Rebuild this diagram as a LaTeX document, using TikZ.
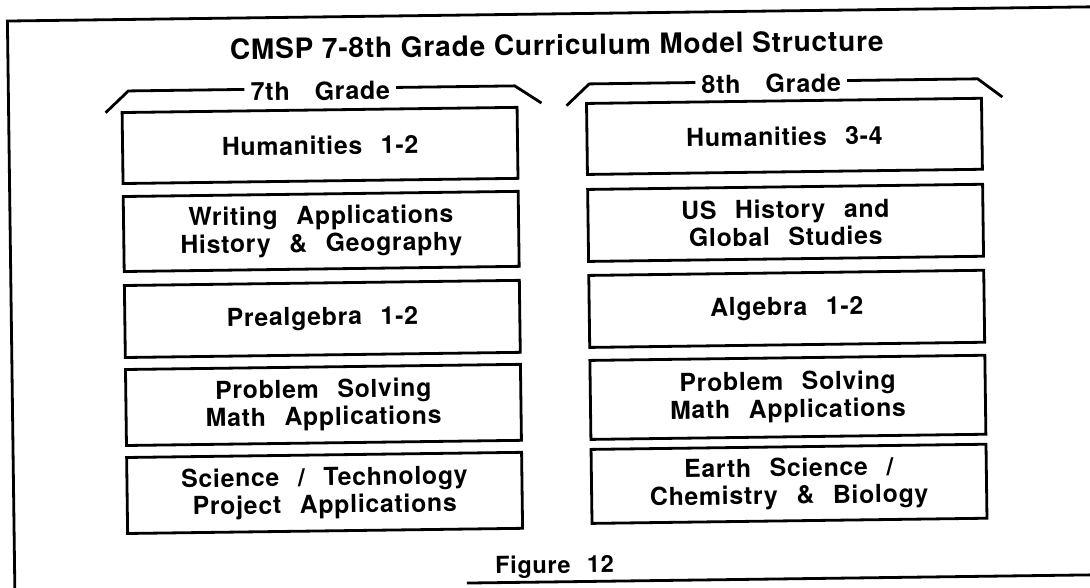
\documentclass[tikz,border=0pt]{standalone}
\usepackage{fontspec}
\setmainfont{TeX Gyre Heros}[LetterSpace=3]
\usepackage{tikz}
\newcommand{\titlefont}{\bfseries\fontsize{28}{32}\selectfont}
\newcommand{\subjfont}{\bfseries\fontsize{24.8}{27.5}\selectfont\spaceskip=0.75em\relax}
\newcommand{\gradefont}{\bfseries\fontsize{25}{28}\selectfont\spaceskip=1em\relax}
\newcommand{\figfont}{\bfseries\fontsize{23.5}{27}\selectfont\spaceskip=0.7em\relax}

\begin{document}
\begin{tikzpicture}[x=1pt,y=-1pt,
        rule/.style={line width=2.8pt,line join=miter},
        subj/.style={draw,line width=2.8pt,minimum width=395pt,inner sep=0pt,align=center,font=\subjfont},
        grade/.style={inner xsep=6pt,inner ysep=0pt,font=\gradefont}]
        \useasboundingbox (0,0) rectangle (1090,587);
        \clip (0,0) rectangle (1090,587);
        \begin{scope}[rotate around={0.75:(545,293)},transform shape]
        \draw[rule] (11,620) -- (11,14) -- (1120,14);
        \draw[rule] (463,582) -- (1120,582);
        \node[font=\titlefont] (title) at (560,45) {CMSP 7-8th Grade Curriculum Model Structure};
        \node[grade] (lab7) at (323,88) {7th Grade};
        \node[grade] (lab8) at (774,86.5) {8th Grade};
        \coordinate (b7a) at (108,107);
        \coordinate (b7b) at (131,85.5);
        \coordinate (b7c) at (517.5,85.5);
        \coordinate (b7d) at (544,103);
        \coordinate (b8a) at (569,106);
        \coordinate (b8b) at (592,84.5);
        \coordinate (b8c) at (980.5,84.5);
        \coordinate (b8d) at (1005,103);
        \draw[rule] (b7a) -- (b7b) -- (b7b -| lab7.west);
        \draw[rule] (lab7.east |- b7c) -- (b7c) -- (b7d);
        \draw[rule] (b8a) -- (b8b) -- (b8b -| lab8.west);
        \draw[rule] (lab8.east |- b8c) -- (b8c) -- (b8d);
        \foreach \n/\y/\h/\txt in {g7a/142.5/71/{Humanities 1-2},
                g7b/228.5/75/{Writing Applications\\History \& Geography},
                g7c/316/72/{Prealgebra 1-2},
                g7d/402/76/{Problem Solving\\Math Applications},
                g7e/490/76/{Science / Technology\\Project Applications}}
        \node[subj,minimum height=\h] (\n) at (322,\y) {\txt};
        \foreach \n/\y/\h/\txt in {g8a/139.5/71/{Humanities 3-4},
                g8b/226/72/{US History and\\Global Studies},
                g8c/312/72/{Algebra 1-2},
                g8d/400.5/79/{Problem Solving\\Math Applications},
                g8e/487/74/{Earth Science /\\Chemistry \& Biology}}
        \node[subj,minimum height=\h] (\n) at (786.5,\y) {\txt};
        \node[font=\figfont] (fig) at (551,567) {Figure 12};
        \end{scope}
        \end{tikzpicture}
\end{document}
